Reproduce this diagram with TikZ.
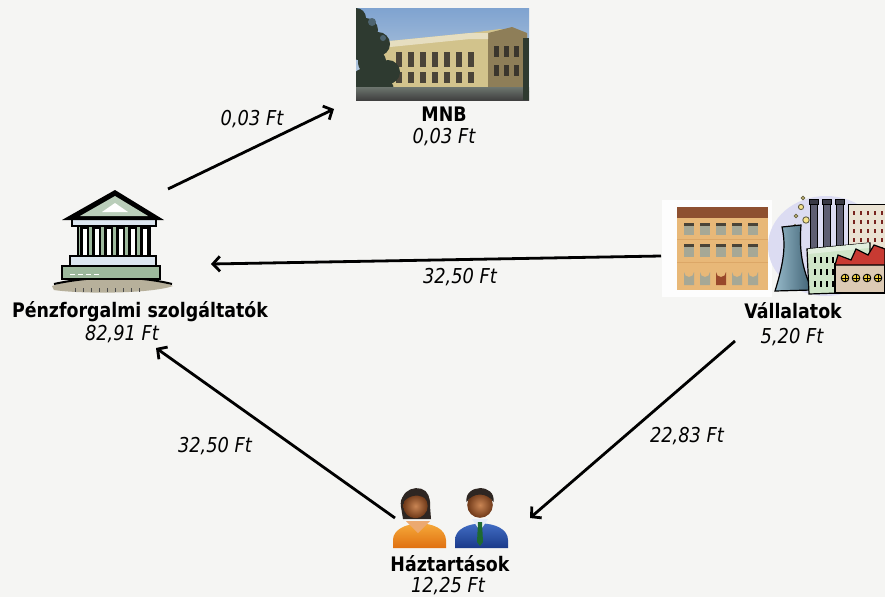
\documentclass[tikz,border=0pt]{standalone}
\usepackage{fontspec}
\setmainfont{DejaVu Sans}[FakeStretch=0.87]
\usetikzlibrary{arrows.meta}
\definecolor{bg}{HTML}{F5F5F3}
\definecolor{sky1}{HTML}{7FA3D0}
\definecolor{sky2}{HTML}{C8D6E2}
\definecolor{facade}{HTML}{D2C38C}
\definecolor{facadeD}{HTML}{8E7E58}
\definecolor{treeC}{HTML}{2E3A30}
\definecolor{winD}{HTML}{4A4438}
\definecolor{bankG}{HTML}{9DB99D}
\definecolor{bankL}{HTML}{DCE6F0}
\definecolor{groundC}{HTML}{B7B09B}
\definecolor{roofB}{HTML}{8E5030}
\definecolor{wallO}{HTML}{E8B878}
\definecolor{winG}{HTML}{A6A896}
\definecolor{lav}{HTML}{DCDCF2}
\definecolor{tallB}{HTML}{EBE3D3}
\definecolor{chim}{HTML}{5E5E72}
\definecolor{towerL}{HTML}{95B8C8}
\definecolor{towerD}{HTML}{3E6072}
\definecolor{greenB}{HTML}{CFE5C8}
\definecolor{redR}{HTML}{C83A32}
\definecolor{factW}{HTML}{DCCAB4}
\definecolor{yel}{HTML}{F0D040}
\definecolor{skinL}{HTML}{C98554}
\definecolor{skinD}{HTML}{6E3818}
\definecolor{hair}{HTML}{2E2622}
\definecolor{orL}{HTML}{FBB845}
\definecolor{orD}{HTML}{E07010}
\definecolor{blL}{HTML}{4A78D0}
\definecolor{blD}{HTML}{1A3A8A}
\definecolor{tie}{HTML}{1E6A30}
\begin{document}
\begin{tikzpicture}[x=1pt,y=-1pt,
  namelbl/.style={font=\bfseries\fontsize{20}{24}\selectfont,inner sep=0pt,anchor=base},
  vallbl/.style={font=\itshape\fontsize{20.5}{24}\selectfont,inner sep=0pt,anchor=base},
  flow/.style={line width=2.8pt,-{Straight Barb[length=7pt,width=15pt]}},
  iconbox/.style={inner sep=0pt,draw=none}]
\fill[bg] (0,0) rectangle (885,597);
\useasboundingbox (0,0) rectangle (885,597);

% ---------------- MNB photo ----------------
\node[iconbox,minimum width=173pt,minimum height=92pt] (mnbimg) at (442.5,54) {};
\begin{scope}
\clip (356,8) rectangle (529,100);
\shade[top color=sky1,bottom color=sky2] (356,8) rectangle (529,100);
\fill[facade] (380,42) -- (470,33) -- (500,29) -- (527,34) -- (529,92) -- (380,92) -- cycle;
\fill[facadeD] (488,33) -- (512,27) -- (527,33) -- (529,92) -- (488,92) -- cycle;
\fill[facade!55!white] (380,42) -- (470,33) -- (488,33) -- (488,39) -- (470,39) -- (380,48) -- cycle;
\foreach \x in {396,408,420,432,444,456,468} {
  \fill[winD] (\x,52) rectangle ++(6,15);
  \fill[winD] (\x,72) rectangle ++(6,11);
}
\foreach \x in {494,504,514} {
  \fill[winD!80!black] (\x,46) rectangle ++(5,11);
  \fill[winD!80!black] (\x,65) rectangle ++(5,11);
}
\fill[treeC] (356,18) circle[radius=10] (366,30) circle[radius=12] (378,44) circle[radius=12]
  (372,62) circle[radius=14] (388,72) circle[radius=12] (366,84) circle[radius=16]
  (382,90) circle[radius=12] (358,48) circle[radius=12];
\fill[treeC!60!sky1] (372,22) circle[radius=4] (383,38) circle[radius=3];
\shade[top color=treeC!70,bottom color=black!75] (356,87) rectangle (529,100);
\fill[treeC] (523,38) rectangle (529,100);
\end{scope}
\node[namelbl] (mnbL) at (444,121) {MNB};
\node[vallbl] (mnbV) at (444,143) {0,03 Ft};

% ---------------- Bank icon ----------------
\node[iconbox,minimum width=123pt,minimum height=102pt] (bankimg) at (111.5,241) {};
\fill[groundC] (52,286) .. controls (80,276) and (150,276) .. (173,286)
  .. controls (150,294) and (80,294) .. (54,290) -- cycle;
\draw[line width=2pt] (54,284) .. controls (95,275) and (140,276) .. (172,284);
\foreach \x in {75,83,91,99,107,115,123,131,139} \draw[black!70,line width=0.8pt] (\x,288) -- (\x,292);
\filldraw[fill=bankG,draw=black,line width=1.4pt] (62,266) rectangle (160,279);
\foreach \x in {70,78,86,94} \draw[white,line width=1pt] (\x,274) -- (\x+5,274);
\filldraw[fill=bankL,draw=black,line width=1.4pt] (70,256) rectangle (156,266);
\filldraw[fill=bankG,draw=black,line width=1.4pt] (78,226) rectangle (150,256);
\foreach \x in {81,93,105,117,129,141} {
  \filldraw[fill=white,draw=black,line width=1.4pt] (\x,228) rectangle ++(7,28);
  \fill[black] (\x,228) rectangle ++(2.2,28);
}
\filldraw[fill=bankL,draw=black,line width=1.6pt] (72,218) rectangle (156,226);
\fill[black] (62,220) -- (115,190) -- (164,220) -- cycle;
\fill[bankG!70!white] (80,216) -- (115,196) -- (148,216) -- cycle;
\fill[white] (102,212) -- (115,203) -- (128,212) -- cycle;
\node[namelbl] (pfL) at (140,317) {Pénzforgalmi szolgáltatók};
\node[vallbl] (pfV) at (122,340) {82,91 Ft};

% ---------------- Vállalatok icons ----------------
\node[iconbox,minimum width=225pt,minimum height=105pt] (vallimg) at (772.5,246) {};
\fill[white!85!bg] (662,200) rectangle (772,297);
\fill[roofB] (677,207) rectangle (768,218);
\fill[wallO] (677,218) rectangle (768,290);
\draw[wallO!70!brown,line width=1pt] (677,239) -- (768,239) (677,262) -- (768,262);
\foreach \x in {684,700,716,732,748} {
  \fill[winG] (\x,223) rectangle ++(10,12);
  \fill[winD] (\x,223) rectangle ++(10,3);
  \fill[winG] (\x,244) rectangle ++(10,13);
  \fill[winD] (\x,244) rectangle ++(10,3);
}
\foreach \x in {684,700,732,748} {
  \fill[winG] (\x,285) -- ++(0,-13) arc[start angle=180,end angle=0,radius=5] -- ++(0,13) -- cycle;
}
\fill[roofB!90!red] (716,285) -- ++(0,-13) arc[start angle=180,end angle=0,radius=5] -- ++(0,13) -- cycle;
% factory
\fill[lav] (826,246) ellipse[x radius=58,y radius=50];
\filldraw[fill=tallB,draw=black,line width=0.8pt] (848,204) rectangle (885,282);
\foreach \y in {211,220,229,238,247,256,265} \foreach \x in {853,860,867,874,881}
  \fill[redR!60!black] (\x,\y) rectangle ++(1.8,3.5);
\foreach \x in {810,823,836} {
  \filldraw[fill=chim,draw=black,line width=0.8pt] (\x,203) rectangle ++(7,55);
  \filldraw[fill=chim!60!black,draw=black,line width=0.8pt] (\x-1,199) rectangle ++(9,5);
}
\foreach \p/\r in {{(803,198)}/1.8,{(801,207)}/2.6,{(796,216)}/1.8,{(806,220)}/3.2,{(795,226)}/1.4}
  \filldraw[fill=yel!60!white,draw=black!70!yellow,line width=0.9pt] \p circle[radius=\r];
\shade[left color=towerL,right color=towerD] (775,291) .. controls (784,262) and (786,245) .. (782,227)
  -- (801,225) .. controls (799,250) and (802,268) .. (812,290) -- cycle;
\draw[black,line width=1.2pt] (775,291) .. controls (784,262) and (786,245) .. (782,227)
  -- (801,225) .. controls (799,250) and (802,268) .. (812,290) -- cycle;
\filldraw[fill=greenB,draw=black,line width=1.2pt] (807,249) -- (870,243) -- (870,292) -- (809,294) -- cycle;
\fill[greenB!60!white] (808,249) -- (869,243) -- (869,248) -- (808,254) -- cycle;
\foreach \y in {257,269,281} \foreach \x in {814,820,826,832}
  \fill[black] (\x,\y) rectangle ++(1.6,6);
\filldraw[fill=factW,draw=black,line width=1.2pt] (835,264) rectangle (885,293);
\filldraw[fill=redR,draw=black,line width=1.2pt] (835,265) -- (838,255) -- (851,260) -- (856,249)
  -- (868,255) -- (874,245) -- (885,249) -- (885,265) -- cycle;
\foreach \x in {845,856,867,878} {
  \filldraw[fill=yel,draw=black,line width=0.9pt] (\x,278) circle[radius=3.8];
  \draw[black,line width=0.6pt] (\x-3.8,278) -- (\x+3.8,278) (\x,274.2) -- (\x,281.8);
}
\node[namelbl] (vL) at (793,318) {Vállalatok};
\node[vallbl] (vV) at (792,343) {5,20 Ft};

% ---------------- People ----------------
\node[iconbox,minimum width=114pt,minimum height=62pt] (hhimg) at (450,518) {};
% woman
\shade[top color=orL,bottom color=orD] (393,548) -- (393,540) .. controls (393,519) and (445,517) .. (446,540) -- (446,548) -- cycle;
\fill[orD!60!white] (406,521) -- (418,533) -- (430,521) -- cycle;
\fill[hair] (401,507) .. controls (397,486) and (433,484) .. (430,506) -- (431,519) -- (403,519) -- cycle;
\shade[inner color=skinL,outer color=skinD] (415.5,506) circle[radius=12.2];
\fill[hair] (402,503) .. controls (401,484) and (431,483) .. (429,501) .. controls (420,493) and (410,494) .. (402,503) -- cycle;
% man
\shade[top color=blL,bottom color=blD] (455,548) -- (455,540) .. controls (455,518) and (508,518) .. (508,540) -- (508,548) -- cycle;
\fill[white!85!blL] (472,519) -- (480,531) -- (488,519) -- cycle;
\fill[tie] (478,522) -- (482,522) -- (483,542) -- (480,546) -- (477,542) -- cycle;
\shade[inner color=skinL,outer color=skinD] (480,505) circle[radius=12.8];
\fill[hair] (466.5,502) .. controls (464,484) and (496,483) .. (493.5,502) .. controls (487,492) and (473,492) .. (466.5,502) -- cycle;
\node[namelbl] (hL) at (450,571) {Háztartások};
\node[vallbl] (hV) at (448,592) {12,25 Ft};

% ---------------- Connectors ----------------
\coordinate (a1s) at (168,189); \coordinate (a1e) at (334,109);
\coordinate (a2s) at (661,256); \coordinate (a2e) at (211,264);
\coordinate (a3s) at (735,341); \coordinate (a3e) at (530,518);
\coordinate (a4s) at (395,518); \coordinate (a4e) at (156,348);
\draw[flow] (a1s) -- (a1e);
\draw[flow] (a2s) -- (a2e);
\draw[flow] (a3s) -- (a3e);
\draw[flow] (a4s) -- (a4e);
\node[vallbl] (l1) at (252,125) {0,03 Ft};
\node[vallbl] (l2) at (460,283) {32,50 Ft};
\node[vallbl] (l3) at (687,442) {22,83 Ft};
\node[vallbl] (l4) at (215,452) {32,50 Ft};
\end{tikzpicture}
\end{document}
